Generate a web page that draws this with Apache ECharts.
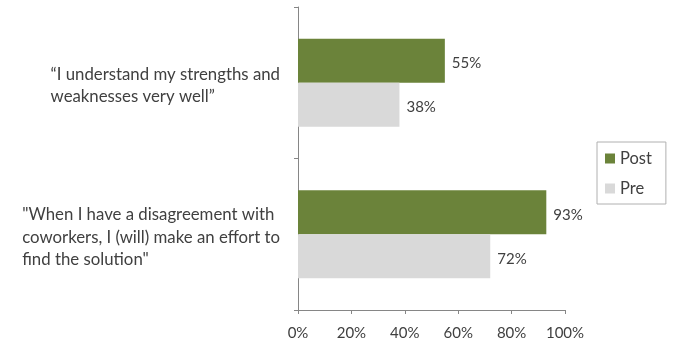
<!DOCTYPE html>
<html><head><meta charset="utf-8">
<script src="https://cdn.jsdelivr.net/npm/echarts@6/dist/echarts.min.js"></script>
<style>html,body{margin:0;padding:0;background:#fff}#c{width:674px;height:358px}</style>
</head><body><div id="c"></div>
<script>
const categories = ['"When I have a disagreement with\ncoworkers, I (will) make an effort to\nfind the solution"', '\u201cI understand my strengths and\nweaknesses very well\u201d'];
const postValues = [93, 55];
const preValues = [72, 38];
const xTicks = [0, 20, 40, 60, 80, 100];
const FONT = 'Lato';
const chart = echarts.init(document.getElementById('c'));
chart.setOption({
  animation: false,
  textStyle: {fontFamily: FONT},
  grid: {left: 298, right: 109, top: 7, bottom: 48, containLabel: false},
  legend: {
    orient: 'vertical', left: 597, top: 142,
    data: ['Post', 'Pre'],
    borderColor: '#b0b0b0', borderWidth: 1, padding: [8, 14, 7, 8],
    itemWidth: 10, itemHeight: 10, itemGap: 13, icon: 'rect',
    textStyle: {fontFamily: FONT, fontSize: 16.5, lineHeight: 16, color: '#404040'}
  },
  xAxis: {
    type: 'value', min: 0, max: 100, interval: 20,
    axisLine: {show: true, lineStyle: {color: '#868686'}},
    axisTick: {show: true, inside: false, length: 4, lineStyle: {color: '#868686'}},
    splitLine: {show: false},
    axisLabel: {formatter: v => xTicks.includes(v) ? v + '%' : '', fontSize: 15, color: '#404040', margin: 16, fontFamily: FONT}
  },
  yAxis: {
    type: 'category', data: categories,
    axisLine: {lineStyle: {color: '#868686'}},
    axisTick: {show: true, length: 4, lineStyle: {color: '#868686'}},
    axisLabel: {
      fontSize: 16.8, color: '#404040', margin: 18, lineHeight: 22.5, fontFamily: FONT, align: 'right',
      padding: [6, 0, 0, 0],
      formatter: v => v.split('\n').map(s => '{l|' + s + '}').join('\n'),
      rich: {l: {align: 'left', fontSize: 16.8, lineHeight: 22.5, color: '#404040', fontFamily: FONT}}
    }
  },
  series: [
    {name: 'Post', type: 'bar', data: postValues, itemStyle: {color: '#6B833A'}, barGap: '0%', barCategoryGap: '42%',
     label: {show: true, position: 'right', distance: 7, offset: [0, 2.5], formatter: '{c}%', fontSize: 15, color: '#404040', fontFamily: FONT}},
    {name: 'Pre', type: 'bar', data: preValues, itemStyle: {color: '#D9D9D9'}, barGap: '0%', barCategoryGap: '42%',
     label: {show: true, position: 'right', distance: 7, offset: [0, 2.5], formatter: '{c}%', fontSize: 15, color: '#404040', fontFamily: FONT}}
  ]
});
</script></body></html>
